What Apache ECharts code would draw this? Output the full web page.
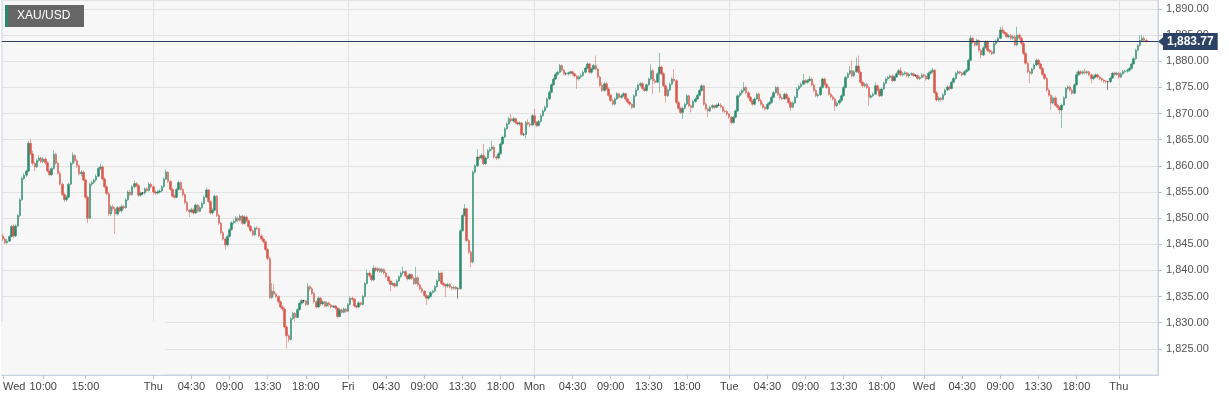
<!DOCTYPE html>
<html><head><meta charset="utf-8">
<script src="https://cdn.jsdelivr.net/npm/echarts@6/dist/echarts.min.js"></script>
<style>html,body{margin:0;padding:0;background:#fff}#c{width:1229px;height:400px}</style>
</head><body><div id="c"></div>
<script>
// 15-minute XAU/USD candles: [open, close, low, high]
const candles = [
[1846.6,1846.0,1845.6,1847.0],[1846.0,1845.3,1845.0,1846.3],[1845.3,1845.6,1845.0,1846.0],[1845.6,1846.5,1845.4,1846.8],[1846.5,1848.4,1846.3,1848.7],[1848.4,1846.6,1846.2,1848.9],
[1846.6,1848.5,1846.4,1848.8],[1848.5,1850.5,1848.3,1850.8],[1850.5,1853.5,1850.2,1853.8],[1853.5,1857.6,1853.3,1857.9],[1857.6,1858.2,1857.3,1858.6],[1858.2,1859.0,1857.9,1859.3],
[1859.0,1864.3,1858.8,1864.8],[1864.3,1862.3,1862.0,1865.2],[1862.3,1860.5,1860.1,1862.9],[1860.5,1859.8,1859.0,1860.8],[1859.8,1861.0,1859.6,1861.4],[1861.0,1861.5,1860.7,1862.0],
[1861.5,1860.8,1860.5,1861.8],[1860.8,1861.3,1860.5,1861.7],[1861.3,1860.6,1860.2,1861.6],[1860.6,1859.0,1858.7,1860.9],[1859.0,1858.3,1858.0,1859.3],[1858.3,1859.5,1858.1,1859.8],
[1859.5,1862.2,1859.3,1863.0],[1862.2,1860.5,1860.2,1862.5],[1860.5,1858.6,1858.3,1860.8],[1858.6,1856.5,1856.2,1858.9],[1856.5,1854.5,1854.2,1856.8],[1854.5,1853.5,1853.1,1854.8],
[1853.5,1854.0,1853.2,1854.4],[1854.0,1856.5,1853.8,1856.8],[1856.5,1860.5,1856.3,1860.8],[1860.5,1862.0,1860.2,1862.6],[1862.0,1861.0,1860.7,1862.3],[1861.0,1860.0,1859.6,1861.3],
[1860.0,1858.5,1858.2,1860.3],[1858.5,1858.8,1858.0,1859.2],[1858.8,1857.3,1857.0,1859.1],[1857.3,1854.0,1853.7,1857.6],[1854.0,1850.0,1849.0,1854.3],[1850.0,1856.5,1849.8,1856.8],
[1856.5,1856.8,1856.1,1857.2],[1856.8,1857.3,1856.5,1857.6],[1857.3,1858.0,1857.0,1858.4],[1858.0,1859.5,1857.8,1859.8],[1859.5,1859.8,1859.2,1860.4],[1859.8,1857.5,1857.2,1860.1],
[1857.5,1856.0,1855.7,1857.8],[1856.0,1854.7,1854.4,1856.3],[1854.7,1850.8,1850.4,1855.0],[1850.8,1852.2,1850.5,1852.5],[1852.2,1851.8,1851.4,1852.6],[1851.8,1850.8,1847.0,1852.1],
[1850.8,1852.0,1850.5,1852.3],[1852.0,1851.4,1851.1,1852.3],[1851.4,1852.2,1851.1,1852.6],[1852.2,1852.0,1851.6,1852.5],[1852.0,1853.5,1851.8,1853.8],[1853.5,1855.0,1853.3,1855.3],
[1855.0,1854.5,1854.2,1855.4],[1854.5,1856.0,1854.3,1856.3],[1856.0,1856.6,1855.8,1857.2],[1856.6,1856.2,1855.9,1856.9],[1856.2,1854.4,1854.1,1856.5],[1854.4,1854.8,1854.1,1855.1],
[1854.8,1854.8,1854.4,1855.0],[1854.8,1855.6,1854.5,1855.9],[1855.6,1855.3,1855.0,1855.9],[1855.3,1856.5,1855.1,1856.9],[1856.5,1856.0,1855.7,1856.8],[1856.0,1855.0,1854.7,1856.3],
[1855.0,1854.8,1854.4,1855.3],[1854.8,1855.0,1854.5,1855.4],[1855.0,1855.2,1854.7,1855.5],[1855.2,1856.0,1854.9,1856.3],[1856.0,1857.5,1855.8,1857.8],[1857.5,1858.8,1857.3,1859.3],
[1858.8,1857.0,1856.7,1859.0],[1857.0,1855.5,1855.2,1857.3],[1855.5,1854.2,1853.9,1855.8],[1854.2,1854.0,1853.6,1854.6],[1854.0,1855.5,1853.8,1855.8],[1855.5,1856.8,1855.3,1857.2],
[1856.8,1855.5,1855.2,1857.0],[1855.5,1854.5,1854.2,1855.8],[1854.5,1853.0,1852.7,1854.8],[1853.0,1851.5,1851.2,1853.3],[1851.5,1851.2,1850.2,1851.8],[1851.2,1851.6,1850.9,1852.0],
[1851.6,1851.0,1850.7,1851.9],[1851.0,1852.5,1850.8,1852.8],[1852.5,1851.3,1851.0,1852.7],[1851.3,1852.0,1851.1,1852.3],[1852.0,1852.8,1851.7,1853.2],[1852.8,1854.0,1852.6,1854.3],
[1854.0,1855.4,1853.8,1855.8],[1855.4,1853.2,1852.9,1855.6],[1853.2,1851.0,1850.7,1853.4],[1851.0,1851.5,1850.7,1851.9],[1851.5,1854.2,1851.3,1854.5],[1854.2,1850.5,1850.2,1854.4],
[1850.5,1849.0,1848.7,1850.8],[1849.0,1847.2,1846.9,1849.3],[1847.2,1846.0,1845.7,1847.5],[1846.0,1844.9,1844.0,1846.3],[1844.9,1846.5,1844.6,1846.8],[1846.5,1847.8,1846.3,1848.1],
[1847.8,1849.1,1847.6,1849.4],[1849.1,1849.4,1848.8,1849.8],[1849.4,1850.0,1849.1,1850.4],[1850.0,1849.6,1849.3,1850.3],[1849.6,1850.4,1849.3,1850.8],[1850.4,1849.0,1848.7,1850.6],
[1849.0,1850.2,1848.8,1850.5],[1850.2,1849.5,1849.2,1850.5],[1849.5,1848.4,1848.1,1849.8],[1848.4,1847.6,1847.3,1848.7],[1847.6,1846.8,1846.5,1847.9],[1846.8,1848.1,1846.6,1848.4],
[1848.1,1848.0,1847.7,1848.5],[1848.0,1846.6,1846.3,1848.2],[1846.6,1846.0,1845.7,1846.9],[1846.0,1845.5,1845.2,1846.3],[1845.5,1844.0,1843.7,1845.7],[1844.0,1842.3,1842.0,1844.3],
[1842.3,1834.8,1834.5,1842.6],[1834.8,1836.0,1834.5,1837.6],[1836.0,1835.5,1835.2,1837.4],[1835.5,1835.0,1834.7,1835.8],[1835.0,1834.0,1833.7,1835.3],[1834.0,1833.0,1832.7,1834.3],
[1833.0,1832.6,1832.2,1833.3],[1832.6,1829.2,1828.9,1832.9],[1829.2,1827.5,1825.1,1829.5],[1827.5,1826.8,1826.3,1827.8],[1826.8,1830.8,1826.6,1831.1],[1830.8,1831.8,1830.5,1832.1],
[1831.8,1831.0,1830.2,1832.0],[1831.0,1832.5,1830.8,1832.8],[1832.5,1833.7,1832.3,1834.0],[1833.7,1834.2,1833.4,1834.5],[1834.2,1834.2,1833.8,1834.4],[1834.2,1833.5,1833.2,1834.3],
[1833.5,1836.9,1833.3,1837.6],[1836.9,1836.5,1836.1,1837.2],[1836.5,1835.6,1835.3,1836.8],[1835.6,1834.0,1833.7,1835.9],[1834.0,1833.0,1832.7,1834.3],[1833.0,1834.7,1832.8,1835.0],
[1834.7,1833.6,1833.2,1834.9],[1833.6,1834.0,1833.3,1834.3],[1834.0,1833.2,1832.9,1834.2],[1833.2,1833.8,1833.0,1834.1],[1833.8,1833.4,1833.1,1834.0],[1833.4,1833.0,1832.7,1833.6],
[1833.0,1833.2,1832.8,1833.4],[1833.2,1832.8,1832.5,1833.4],[1832.8,1831.2,1830.8,1833.0],[1831.2,1832.5,1831.0,1832.8],[1832.5,1832.0,1831.7,1832.7],[1832.0,1832.6,1831.8,1832.9],
[1832.6,1832.2,1831.9,1832.8],[1832.2,1833.5,1832.0,1833.8],[1833.5,1834.7,1833.3,1835.0],[1834.7,1834.5,1834.1,1835.0],[1834.5,1833.2,1832.9,1834.7],[1833.2,1833.0,1832.7,1833.4],
[1833.0,1833.8,1832.8,1834.1],[1833.8,1833.5,1833.2,1834.0],[1833.5,1835.0,1833.3,1835.3],[1835.0,1837.5,1834.8,1837.8],[1837.5,1839.5,1837.3,1840.2],[1839.5,1839.0,1838.6,1839.8],
[1839.0,1838.2,1837.9,1839.3],[1838.2,1840.4,1838.0,1841.0],[1840.4,1840.0,1839.7,1840.7],[1840.0,1840.3,1839.7,1840.6],[1840.3,1839.8,1839.5,1840.5],[1839.8,1840.2,1839.5,1840.5],
[1840.2,1839.5,1839.2,1840.4],[1839.5,1838.8,1838.5,1839.8],[1838.8,1838.0,1837.7,1839.0],[1838.0,1837.3,1836.0,1838.2],[1837.3,1837.5,1837.0,1837.8],[1837.5,1837.0,1836.7,1837.7],
[1837.0,1838.0,1836.8,1838.3],[1838.0,1838.8,1837.8,1839.1],[1838.8,1839.5,1838.5,1839.8],[1839.5,1839.8,1839.2,1840.7],[1839.8,1839.0,1838.7,1840.0],[1839.0,1838.4,1838.1,1839.2],
[1838.4,1839.2,1838.2,1839.5],[1839.2,1838.5,1838.2,1839.4],[1838.5,1837.5,1837.2,1838.8],[1837.5,1838.6,1837.3,1840.7],[1838.6,1837.2,1836.9,1838.9],[1837.2,1836.5,1836.2,1837.5],
[1836.5,1836.0,1835.7,1836.8],[1836.0,1835.2,1834.9,1836.3],[1835.2,1834.7,1833.4,1835.5],[1834.7,1835.0,1834.4,1835.3],[1835.0,1835.8,1834.8,1836.1],[1835.8,1836.0,1835.5,1836.3],
[1836.0,1836.9,1835.8,1837.2],[1836.9,1838.0,1836.7,1838.3],[1838.0,1839.5,1837.8,1839.9],[1839.5,1837.5,1837.2,1839.8],[1837.5,1837.2,1836.9,1837.8],[1837.2,1837.0,1834.9,1837.5],
[1837.0,1837.3,1836.7,1837.6],[1837.3,1836.8,1836.5,1837.6],[1836.8,1836.6,1836.2,1837.0],[1836.6,1836.8,1836.3,1837.1],[1836.8,1836.5,1836.2,1837.0],[1836.5,1836.5,1834.6,1836.8],
[1836.5,1847.6,1836.3,1847.9],[1847.6,1850.5,1847.4,1850.8],[1850.5,1851.8,1850.3,1852.7],[1851.8,1845.7,1845.4,1852.0],[1845.7,1843.5,1843.2,1846.0],[1843.5,1841.6,1840.6,1843.8],
[1841.6,1858.8,1841.4,1859.1],[1858.8,1860.0,1858.6,1860.3],[1860.0,1861.7,1859.8,1863.2],[1861.7,1861.5,1861.1,1862.0],[1861.5,1862.0,1861.2,1862.4],[1862.0,1860.4,1860.1,1864.2],
[1860.4,1861.5,1860.2,1861.8],[1861.5,1862.9,1861.3,1863.2],[1862.9,1863.2,1862.6,1863.6],[1863.2,1863.6,1862.9,1864.8],[1863.6,1861.7,1861.4,1863.9],[1861.7,1861.5,1861.1,1862.0],
[1861.5,1862.3,1861.3,1862.6],[1862.3,1864.2,1862.1,1864.5],[1864.2,1865.5,1864.0,1865.8],[1865.5,1867.1,1865.3,1867.4],[1867.1,1868.0,1866.9,1868.3],[1868.0,1869.0,1867.8,1869.4],
[1869.0,1868.6,1868.3,1869.9],[1868.6,1869.0,1868.3,1869.3],[1869.0,1868.3,1868.0,1869.2],[1868.3,1868.0,1867.7,1868.6],[1868.0,1868.2,1867.7,1868.5],[1868.2,1866.0,1865.8,1868.4],
[1866.0,1866.0,1865.7,1866.3],[1866.0,1868.3,1865.2,1868.6],[1868.3,1868.0,1867.7,1868.9],[1868.0,1867.8,1867.4,1868.3],[1867.8,1869.6,1867.6,1869.9],[1869.6,1868.3,1868.0,1870.9],
[1868.3,1867.7,1867.4,1868.6],[1867.7,1868.5,1867.5,1868.8],[1868.5,1869.6,1868.3,1869.9],[1869.6,1870.5,1869.4,1870.8],[1870.5,1871.2,1870.3,1871.5],[1871.2,1872.8,1871.0,1873.1],
[1872.8,1874.1,1872.6,1874.4],[1874.1,1875.5,1873.9,1875.8],[1875.5,1876.6,1875.3,1876.9],[1876.6,1877.5,1876.4,1877.8],[1877.5,1877.9,1877.2,1878.2],[1877.9,1879.2,1877.7,1879.5],
[1879.2,1878.3,1878.0,1879.4],[1878.3,1877.6,1877.3,1878.5],[1877.6,1877.6,1877.3,1877.9],[1877.6,1877.8,1877.3,1878.0],[1877.8,1878.0,1877.5,1878.2],[1878.0,1877.6,1877.3,1878.2],
[1877.6,1877.2,1876.9,1877.8],[1877.2,1876.6,1874.7,1877.4],[1876.6,1877.0,1876.3,1877.3],[1877.0,1877.3,1876.7,1877.6],[1877.3,1877.9,1877.1,1878.2],[1877.9,1878.7,1877.7,1879.0],
[1878.7,1879.5,1878.5,1879.8],[1879.5,1877.9,1877.6,1879.7],[1877.9,1878.5,1877.6,1878.8],[1878.5,1879.2,1878.3,1879.5],[1879.2,1878.5,1878.2,1881.1],[1878.5,1877.0,1876.7,1878.7],
[1877.0,1875.4,1875.1,1877.2],[1875.4,1874.4,1874.1,1876.0],[1874.4,1875.7,1874.2,1876.0],[1875.7,1874.7,1874.4,1876.0],[1874.7,1873.5,1873.2,1875.0],[1873.5,1872.5,1872.2,1873.8],
[1872.5,1871.8,1871.5,1872.8],[1871.8,1872.8,1871.6,1873.1],[1872.8,1873.8,1872.6,1874.1],[1873.8,1873.1,1872.8,1874.0],[1873.1,1873.4,1872.8,1873.7],[1873.4,1873.8,1873.1,1874.1],
[1873.8,1872.8,1872.5,1874.0],[1872.8,1872.2,1871.9,1873.1],[1872.2,1871.8,1871.5,1872.5],[1871.8,1871.2,1870.9,1872.0],[1871.2,1873.4,1871.0,1873.7],[1873.4,1874.5,1873.2,1874.8],
[1874.5,1875.4,1874.3,1875.7],[1875.4,1875.7,1875.1,1876.0],[1875.7,1874.8,1874.5,1876.0],[1874.8,1874.4,1874.1,1875.1],[1874.4,1875.5,1874.2,1875.8],[1875.5,1876.6,1875.3,1876.9],
[1876.6,1878.2,1876.4,1879.5],[1878.2,1876.3,1873.8,1878.5],[1876.3,1876.0,1875.7,1876.6],[1876.0,1877.6,1875.8,1877.9],[1877.6,1878.9,1874.0,1881.6],[1878.9,1877.6,1877.3,1879.2],
[1877.6,1875.3,1875.0,1877.9],[1875.3,1873.4,1872.1,1875.6],[1873.4,1874.5,1873.2,1874.8],[1874.5,1875.6,1874.3,1875.9],[1875.6,1876.6,1875.4,1876.9],[1876.6,1876.3,1876.0,1878.5],
[1876.3,1872.1,1871.8,1876.6],[1872.1,1871.0,1870.7,1872.4],[1871.0,1870.2,1869.9,1871.3],[1870.2,1871.0,1869.0,1871.3],[1871.0,1871.8,1870.8,1872.1],[1871.8,1873.4,1871.6,1873.7],
[1873.4,1871.5,1871.2,1873.6],[1871.5,1871.2,1870.2,1871.8],[1871.2,1872.3,1871.0,1872.6],[1872.3,1872.8,1872.0,1873.1],[1872.8,1873.5,1872.6,1873.8],[1873.5,1874.4,1873.3,1874.7],
[1874.4,1875.3,1874.2,1875.6],[1875.3,1871.8,1871.5,1875.5],[1871.8,1870.9,1870.6,1872.1],[1870.9,1870.5,1869.3,1871.1],[1870.5,1871.2,1870.3,1871.5],[1871.2,1871.5,1870.9,1871.8],
[1871.5,1871.2,1870.9,1871.7],[1871.2,1871.6,1871.0,1871.9],[1871.6,1871.6,1871.4,1872.0],[1871.6,1871.3,1871.0,1872.0],[1871.3,1870.5,1870.2,1871.5],[1870.5,1870.4,1870.1,1870.8],
[1870.4,1869.9,1869.6,1870.6],[1869.9,1869.3,1869.0,1870.1],[1869.3,1868.3,1868.0,1869.5],[1868.3,1869.3,1868.1,1869.6],[1869.3,1870.5,1869.1,1870.8],[1870.5,1873.4,1870.3,1873.7],
[1873.4,1873.9,1873.1,1874.2],[1873.9,1874.4,1873.6,1874.7],[1874.4,1875.0,1874.1,1876.0],[1875.0,1874.0,1873.7,1875.3],[1874.0,1873.1,1872.8,1874.3],[1873.1,1872.4,1872.1,1873.4],
[1872.4,1871.8,1871.5,1872.7],[1871.8,1872.8,1871.6,1873.1],[1872.8,1873.7,1872.6,1874.0],[1873.7,1872.5,1872.2,1874.0],[1872.5,1871.8,1871.5,1872.8],[1871.8,1871.2,1870.9,1872.1],
[1871.2,1870.9,1870.5,1871.5],[1870.9,1871.8,1870.7,1872.1],[1871.8,1872.1,1871.5,1872.4],[1872.1,1873.1,1871.9,1873.4],[1873.1,1874.0,1872.9,1874.3],[1874.0,1875.0,1873.8,1875.3],
[1875.0,1873.7,1873.4,1875.3],[1873.7,1873.0,1872.7,1874.0],[1873.0,1872.8,1872.5,1873.3],[1872.8,1873.7,1872.6,1874.0],[1873.7,1873.0,1872.7,1874.0],[1873.0,1872.1,1871.8,1873.3],
[1872.1,1871.2,1870.5,1872.4],[1871.2,1872.0,1871.0,1872.3],[1872.0,1873.1,1871.8,1873.4],[1873.1,1874.7,1872.9,1875.0],[1874.7,1875.2,1874.4,1875.5],[1875.2,1875.6,1874.9,1875.9],
[1875.6,1876.3,1875.4,1877.6],[1876.3,1876.0,1875.7,1876.6],[1876.0,1876.3,1875.7,1876.6],[1876.3,1876.6,1876.0,1877.2],[1876.6,1875.5,1875.2,1876.9],[1875.5,1874.4,1874.1,1875.8],
[1874.4,1873.4,1873.1,1874.7],[1873.4,1873.6,1873.1,1873.9],[1873.6,1875.0,1873.4,1875.3],[1875.0,1876.6,1874.8,1876.9],[1876.6,1875.6,1875.3,1876.9],[1875.6,1875.0,1874.7,1875.9],
[1875.0,1873.7,1873.4,1875.3],[1873.7,1873.2,1872.9,1874.0],[1873.2,1872.8,1872.5,1873.5],[1872.8,1871.5,1870.5,1873.0],[1871.5,1872.0,1871.2,1872.3],[1872.0,1872.5,1871.7,1872.8],
[1872.5,1873.4,1872.2,1873.7],[1873.4,1875.0,1873.2,1875.3],[1875.0,1876.9,1874.8,1877.2],[1876.9,1877.6,1876.7,1877.9],[1877.6,1878.2,1877.4,1879.1],[1878.2,1877.2,1876.9,1880.1],
[1877.2,1878.0,1877.0,1878.3],[1878.0,1879.1,1877.8,1880.7],[1879.1,1877.9,1877.6,1881.1],[1877.9,1876.0,1875.7,1878.2],[1876.0,1875.3,1875.0,1876.3],[1875.3,1875.6,1875.0,1875.9],
[1875.6,1875.0,1874.7,1875.9],[1875.0,1873.1,1871.5,1875.3],[1873.1,1873.4,1872.8,1873.7],[1873.4,1873.7,1873.1,1874.0],[1873.7,1875.3,1873.5,1876.0],[1875.3,1874.5,1874.2,1875.6],
[1874.5,1873.4,1873.1,1874.8],[1873.4,1874.7,1873.2,1875.0],[1874.7,1875.8,1874.5,1876.1],[1875.8,1876.6,1875.6,1876.9],[1876.6,1876.9,1876.3,1877.2],[1876.9,1877.2,1876.6,1877.5],
[1877.2,1876.3,1876.0,1877.5],[1876.3,1877.0,1876.1,1877.3],[1877.0,1877.6,1876.8,1877.9],[1877.6,1878.2,1877.4,1878.5],[1878.2,1877.4,1877.1,1878.9],[1877.4,1877.6,1877.1,1877.9],
[1877.6,1877.8,1877.3,1878.1],[1877.8,1877.2,1876.9,1878.0],[1877.2,1877.5,1876.9,1877.8],[1877.5,1877.6,1877.2,1877.9],[1877.6,1877.3,1877.0,1877.8],[1877.3,1877.3,1877.0,1877.5],
[1877.3,1876.7,1876.4,1877.5],[1876.7,1876.9,1876.4,1877.2],[1876.9,1877.4,1876.7,1877.7],[1877.4,1877.2,1876.9,1877.6],[1877.2,1876.6,1876.3,1877.4],[1876.6,1877.7,1876.4,1878.0],
[1877.7,1878.0,1877.4,1878.3],[1878.0,1878.3,1877.7,1878.8],[1878.3,1874.0,1873.7,1878.5],[1874.0,1872.6,1872.3,1874.3],[1872.6,1873.0,1872.3,1873.3],[1873.0,1872.7,1872.3,1873.2],
[1872.7,1873.6,1872.5,1873.9],[1873.6,1874.5,1873.4,1874.8],[1874.5,1875.1,1874.3,1875.4],[1875.1,1874.8,1874.4,1875.4],[1874.8,1876.0,1874.6,1876.3],[1876.0,1876.7,1875.8,1877.0],
[1876.7,1877.7,1876.5,1878.0],[1877.7,1878.0,1877.4,1878.3],[1878.0,1877.8,1877.5,1878.2],[1877.8,1877.4,1877.1,1878.0],[1877.4,1878.0,1877.2,1878.3],[1878.0,1878.3,1877.7,1878.6],
[1878.3,1880.2,1878.1,1880.5],[1880.2,1884.4,1880.0,1885.0],[1884.4,1883.6,1883.3,1884.7],[1883.6,1883.1,1882.8,1883.9],[1883.1,1884.0,1882.9,1884.3],[1884.0,1882.1,1881.8,1884.2],
[1882.1,1881.2,1880.5,1882.4],[1881.2,1882.6,1881.0,1882.9],[1882.6,1883.7,1882.4,1884.0],[1883.7,1882.1,1881.8,1884.0],[1882.1,1881.8,1881.5,1882.4],[1881.8,1881.5,1881.2,1882.1],
[1881.5,1883.4,1881.3,1883.7],[1883.4,1883.9,1883.1,1884.2],[1883.9,1884.4,1883.6,1884.7],[1884.4,1886.0,1884.2,1886.6],[1886.0,1885.6,1885.3,1886.7],[1885.6,1885.3,1885.0,1885.9],
[1885.3,1884.7,1884.4,1885.6],[1884.7,1884.9,1884.4,1885.2],[1884.9,1884.4,1884.1,1885.2],[1884.4,1884.7,1884.1,1885.0],[1884.7,1883.1,1882.8,1885.0],[1883.1,1885.0,1882.9,1886.6],
[1885.0,1884.4,1884.1,1885.3],[1884.4,1883.4,1883.1,1884.7],[1883.4,1881.5,1881.2,1883.7],[1881.5,1879.6,1879.3,1881.8],[1879.6,1878.0,1877.7,1879.9],[1878.0,1877.7,1875.8,1878.3],
[1877.7,1878.5,1877.4,1878.8],[1878.5,1879.3,1878.3,1879.6],[1879.3,1880.2,1879.1,1880.5],[1880.2,1879.5,1879.2,1880.5],[1879.5,1878.6,1878.3,1879.8],[1878.6,1877.5,1877.2,1878.9],
[1877.5,1876.7,1876.4,1877.8],[1876.7,1874.5,1874.2,1877.0],[1874.5,1873.5,1873.2,1874.8],[1873.5,1872.0,1870.7,1873.8],[1872.0,1873.0,1871.8,1873.3],[1873.0,1871.6,1871.3,1873.3],
[1871.6,1871.2,1870.9,1871.9],[1871.2,1870.7,1870.0,1871.5],[1870.7,1871.6,1867.2,1871.9],[1871.6,1873.0,1871.4,1873.3],[1873.0,1874.8,1872.8,1875.1],[1874.8,1875.1,1874.5,1875.4],
[1875.1,1874.5,1874.2,1875.4],[1874.5,1873.9,1873.6,1874.8],[1873.9,1875.5,1873.7,1875.8],[1875.5,1877.4,1875.3,1878.0],[1877.4,1878.0,1877.2,1878.3],[1878.0,1877.7,1877.4,1878.3],
[1877.7,1878.0,1877.4,1878.3],[1878.0,1877.8,1877.5,1878.6],[1877.8,1878.0,1877.5,1878.3],[1878.0,1877.4,1877.1,1878.2],[1877.4,1876.7,1875.8,1877.6],[1876.7,1877.0,1876.4,1877.3],
[1877.0,1877.4,1876.8,1877.7],[1877.4,1877.0,1876.7,1877.6],[1877.0,1876.7,1876.4,1877.2],[1876.7,1876.4,1876.1,1876.9],[1876.4,1876.2,1875.9,1876.6],[1876.2,1876.1,1875.8,1876.4],
[1876.1,1876.1,1874.5,1876.3],[1876.1,1876.8,1875.9,1877.1],[1876.8,1877.7,1876.6,1878.0],[1877.7,1877.5,1877.2,1878.0],[1877.5,1877.7,1877.2,1878.0],[1877.7,1877.0,1876.7,1878.0],
[1877.0,1877.6,1876.8,1877.9],[1877.6,1878.0,1877.4,1878.3],[1878.0,1878.1,1877.7,1878.4],[1878.1,1878.3,1877.8,1878.6],[1878.3,1878.6,1878.0,1878.9],[1878.6,1879.5,1878.4,1879.8],
[1879.5,1880.5,1879.3,1880.8],[1880.5,1882.1,1880.3,1882.4],[1882.1,1883.0,1881.9,1883.3],[1883.0,1884.0,1882.8,1885.0],[1884.0,1884.4,1883.8,1885.0],[1884.4,1884.0,1883.7,1884.8],
[1884.0,1883.77,1883.6,1884.2]
];
// category slots on the time axis (trading 15-min slots incl. empty ones after the last candle)
const slotCount = 546;
const tickIndex  = [0,19,39,71,89,107,125,143,163,181,199,217,235,251,269,287,305,323,343,361,379,397,415,435,453,471,489,507,527];
const tickLabels = ['Wed','10:00','15:00','Thu','04:30','09:00','13:30','18:00','Fri','04:30','09:00','13:30','18:00','Mon','04:30','09:00','13:30','18:00','Tue','04:30','09:00','13:30','18:00','Wed','04:30','09:00','13:30','18:00','Thu'];
const dayStartIndex = [71,163,251,343,435,527];
const lastPrice = 1883.77;
const symbolName = 'XAU/USD';

const cats = [];
for (let i = 0; i < slotCount; i++) cats.push(String(i));
const labelMap = {};
tickIndex.forEach((t, k) => { labelMap[t] = tickLabels[k]; });
const daySet = new Set(dayStartIndex);
function fmt(v) {
  const s = Number(v).toFixed(2);
  const parts = s.split('.');
  return parts[0].replace(/\B(?=(\d{3})+(?!\d))/g, ',') + '.' + parts[1];
}

const UP = '#2a8a6e', DOWN = '#d9574a';
const FONT = "'Liberation Sans', Arial, Helvetica, sans-serif";
const chart = echarts.init(document.getElementById('c'), null, { renderer: 'canvas' });
chart.setOption({
  animation: false,
  backgroundColor: '#ffffff',
  textStyle: { fontFamily: FONT },
  grid: { left: 0, right: 71, top: 0, bottom: 25, show: true, backgroundColor: '#f7f7f7', borderColor: '#c9d0e3', borderWidth: 1 },
  xAxis: {
    type: 'category', data: cats, boundaryGap: true,
    axisLine: { show: true, lineStyle: { color: '#c9d0e3' } },
    axisTick: { show: true, alignWithLabel: true, interval: (i) => labelMap[i] !== undefined, length: 4, lineStyle: { color: '#b9c0d4' } },
    axisLabel: { interval: (i) => labelMap[i] !== undefined, formatter: (v, i) => labelMap[i] || '', color: '#444', fontSize: 11, fontFamily: FONT, margin: 6, alignMinLabel: 'left' },
    splitLine: { show: true, alignWithLabel: true, interval: (i) => daySet.has(i), lineStyle: { color: '#e3e3e3', width: 1 } }
  },
  yAxis: {
    type: 'value', position: 'right', min: 1820, max: 1891.72, interval: 5,
    axisLine: { show: true, lineStyle: { color: '#c9d0e3' } },
    axisTick: { show: true, length: 4, lineStyle: { color: '#b9c0d4' } },
    axisLabel: { formatter: fmt, color: '#555', fontSize: 11, fontFamily: FONT, margin: 8, showMinLabel: false, showMaxLabel: false },
    splitLine: { show: true, lineStyle: { color: '#e3e3e3', width: 1 } }
  },
  series: [{
    type: 'candlestick', data: candles, barWidth: 2, 
    itemStyle: { color: UP, color0: DOWN, borderColor: UP, borderColor0: DOWN, borderWidth: 0.5, borderColorDoji: '#111' },
    markLine: {
      silent: true, symbol: ['none', 'none'], animation: false,
      data: [{ yAxis: lastPrice }],
      lineStyle: { color: '#2c3e5e', width: 1, type: 'solid' },
      label: { position: 'end', formatter: () => fmt(lastPrice), backgroundColor: '#2c4266', color: '#fff', fontWeight: 'bold', fontSize: 12, fontFamily: FONT, padding: [3, 4, 2, 4], distance: 5 }
    }
  }],
  graphic: [
    { type: 'rect', id: 'mask', z: 1, silent: true, shape: { x: 1, y: 321.6, width: 164, height: 52.9 }, style: { fill: '#f7f7f7' } },
    { type: 'rect', id: 'legBox', z: 10, shape: { x: 5, y: 5, width: 79, height: 22 }, style: { fill: '#666666' } },
    { type: 'rect', id: 'legBar', z: 11, shape: { x: 5, y: 5, width: 3, height: 22 }, style: { fill: UP } },
    { type: 'text', id: 'legTxt', z: 12, x: 17, y: 16, style: { text: symbolName, fill: '#ffffff', font: '12px ' + FONT, verticalAlign: 'middle', textVerticalAlign: 'middle' } }
  ]
});
const py = chart.convertToPixel({ yAxisIndex: 0 }, lastPrice);
chart.setOption({
  graphic: [
    { type: 'polygon', id: 'arrow', z: 20, shape: { points: [[1158, py], [1164, py - 5], [1164, py + 5]] }, style: { fill: '#2c4266' } }
  ]
});
</script>
</body></html>
